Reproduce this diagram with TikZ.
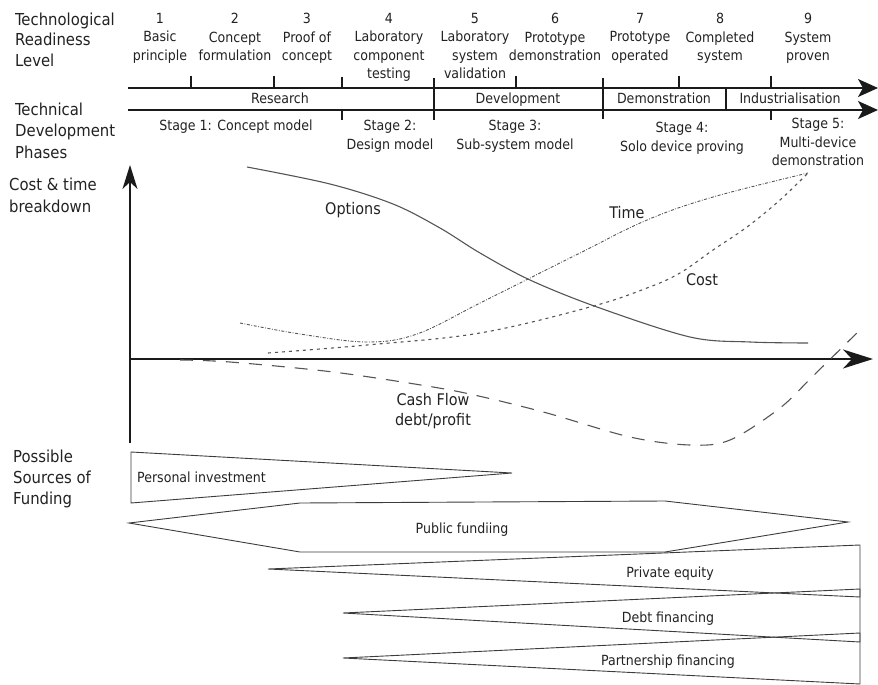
\documentclass[tikz,border=0pt]{standalone}
\usepackage{fontspec}
\setmainfont{DejaVu Sans Condensed}
\usetikzlibrary{arrows.meta}
\definecolor{txt}{HTML}{222222}
\definecolor{ink}{HTML}{1A1A1A}
\definecolor{crv}{HTML}{555555}
\begin{document}
\begin{tikzpicture}[x=1pt,y=-1pt,
  lbl/.style={inner sep=0pt, text=txt, font=\fontsize{14}{18.5}\selectfont, align=center},
  side/.style={inner sep=0pt, text=txt, font=\fontsize{16.5}{20.5}\selectfont, align=left, anchor=north west},
  chartlbl/.style={inner sep=0pt, text=txt, font=\fontsize{16}{20}\selectfont, align=center},
  tickmark/.style={draw=ink, line width=1.2pt},
  barline/.style={draw=ink, line width=1.3pt, -{Stealth[length=20pt,width=18pt,inset=5pt]}},
  axisline/.style={draw=ink, line width=1.6pt},
  fund/.style={draw=ink!85, line width=0.9pt, line join=miter},
  curve/.style={draw=crv, line width=1pt}
]
\useasboundingbox (0,0) rectangle (878,685);

% ---------- left labels ----------
\node[side] (trl) at (15,12.5) {Technological\\Readiness\\Level};
\node[side, font=\fontsize{16.5}{21.5}\selectfont] (tdp) at (15,102.5) {Technical\\Development\\Phases};
\node[side, font=\fontsize{16.5}{22}\selectfont] (ctb) at (9,177.5) {Cost \& time\\breakdown};
\node[side, font=\fontsize{16.5}{21}\selectfont] (psf) at (13,449.5) {Possible\\Sources of\\Funding};

% ---------- TRL labels ----------
\node[lbl, anchor=north] (t1) at (160,13) {1\\Basic\\principle};
\node[lbl, anchor=north] (t2) at (235,13) {2\\Concept\\formulation};
\node[lbl, anchor=north] (t3) at (307,13) {3\\Proof of\\concept};
\node[lbl, anchor=north] (t4) at (389,13) {4\\Laboratory\\component\\testing};
\node[lbl, anchor=north] (t5) at (475,13) {5\\Laboratory\\system\\validation};
\node[lbl, anchor=north] (t6) at (555,13) {6\\Prototype\\demonstration};
\node[lbl, anchor=north] (t7) at (640,13) {7\\Prototype\\operated};
\node[lbl, anchor=north] (t8) at (720,13) {8\\Completed\\system};
\node[lbl, anchor=north] (t9) at (808,13) {9\\System\\proven};

% ---------- phase bars ----------
\coordinate (bar1s) at (128,88);
\coordinate (bar1e) at (878,88);
\coordinate (bar2s) at (128,110);
\coordinate (bar2e) at (878,110);
\draw[barline] (bar1s) -- (bar1e);
\draw[barline] (bar2s) -- (bar2e);

\draw[tickmark] (191,76) -- (191,88);
\draw[tickmark] (274,76) -- (274,88);
\draw[tickmark] (342,77) -- (342,88);
\draw[tickmark] (342,110) -- (342,120);
\draw[tickmark] (434,78) -- (434,120);
\draw[tickmark] (516,76) -- (516,88);
\draw[tickmark] (603,78) -- (603,119);
\draw[tickmark] (679,76) -- (679,88);
\draw[tickmark] (726,88) -- (726,110);
\draw[tickmark] (771,76) -- (771,88);
\draw[tickmark] (771,110) -- (771,120);

\node[lbl, anchor=base] (ph1) at (280,103) {Research};
\node[lbl, anchor=base] (ph2) at (518,103) {Development};
\node[lbl, anchor=base] (ph3) at (664,103) {Demonstration};
\node[lbl, anchor=base] (ph4) at (790,103) {Industrialisation};

% ---------- stages ----------
\node[lbl, anchor=north] (s1) at (236,120) {Stage 1: Concept model};
\node[lbl, anchor=north] (s2) at (390,120) {Stage 2:\\Design model};
\node[lbl, anchor=north] (s3) at (515,120) {Stage 3:\\Sub-system model};
\node[lbl, anchor=north] (s4) at (682,122) {Stage 4:\\Solo device proving};
\node[lbl, anchor=north] (s5) at (818,118) {Stage 5:\\Multi-device\\demonstration};

% ---------- chart axes ----------
\coordinate (org) at (130,359);
\coordinate (ytop) at (130,165);
\coordinate (ybot) at (130,443);
\coordinate (xend) at (873,359);
\draw[axisline] (ybot) -- (org);
\draw[axisline, -{Stealth[length=24pt,width=15pt,inset=7pt]}] (org) -- (ytop);
\draw[axisline, -{Stealth[length=30pt,width=19pt,inset=9pt]}] (org) -- (xend);

% ---------- curves ----------
\draw[curve, line width=1.1pt] plot[smooth, tension=0.55] coordinates {(247,167) (330,184) (393,204) (440,228) (480,253) (530,280) (597,307) (690,337) (750,342) (808,343)};
\draw[curve, line width=0.9pt, dash pattern=on 3pt off 1.6pt on 0.8pt off 1.6pt] plot[smooth, tension=0.6] coordinates {(240,323) (300,334) (367,342) (417,334) (480,303) (530,278) (580,253) (647,220) (713,197) (808,173)};
\draw[curve, line width=1.1pt, dash pattern=on 3pt off 4pt] plot[smooth, tension=0.6] coordinates {(268,353) (367,345) (480,333) (590,307) (647,288) (680,273) (713,250) (747,227) (780,200) (808,173)};
\draw[curve, line width=1.1pt, dash pattern=on 13pt off 10pt] plot[smooth, tension=0.55] coordinates {(180,360) (230,362) (333,372) (433,387) (483,397) (547,413) (630,437) (690,445) (730,440) (780,408) (813,376) (863,327)};

\node[chartlbl, anchor=base] (opt) at (353,214) {Options};
\node[chartlbl, anchor=base] (tim) at (627,218) {Time};
\node[chartlbl, anchor=base] (cst) at (702,285) {Cost};
\node[chartlbl, anchor=north] (csh) at (433,392.8) {Cash Flow\\debt/profit};

% ---------- funding shapes ----------
\draw[fund] (131,452) -- (512,473) -- (131,503) -- cycle;
\draw[fund] (129,523) -- (300,503) -- (665,501) -- (848,522) -- (665,552) -- (300,552) -- cycle;
\draw[fund] (268,569) -- (860,545) -- (860,597) -- cycle;
\draw[fund] (343,613) -- (860,589) -- (860,642) -- cycle;
\draw[fund] (343,658) -- (860,633) -- (860,684) -- cycle;

\node[lbl, anchor=base west] (f1) at (137,482) {Personal investment};
\node[lbl, anchor=base] (f2) at (462,533) {Public fundiing};
\node[lbl, anchor=base] (f3) at (670,577) {Private equity};
\node[lbl, anchor=base] (f4) at (668,622) {Debt financing};
\node[lbl, anchor=base] (f5) at (668,665) {Partnership financing};
\end{tikzpicture}
\end{document}
